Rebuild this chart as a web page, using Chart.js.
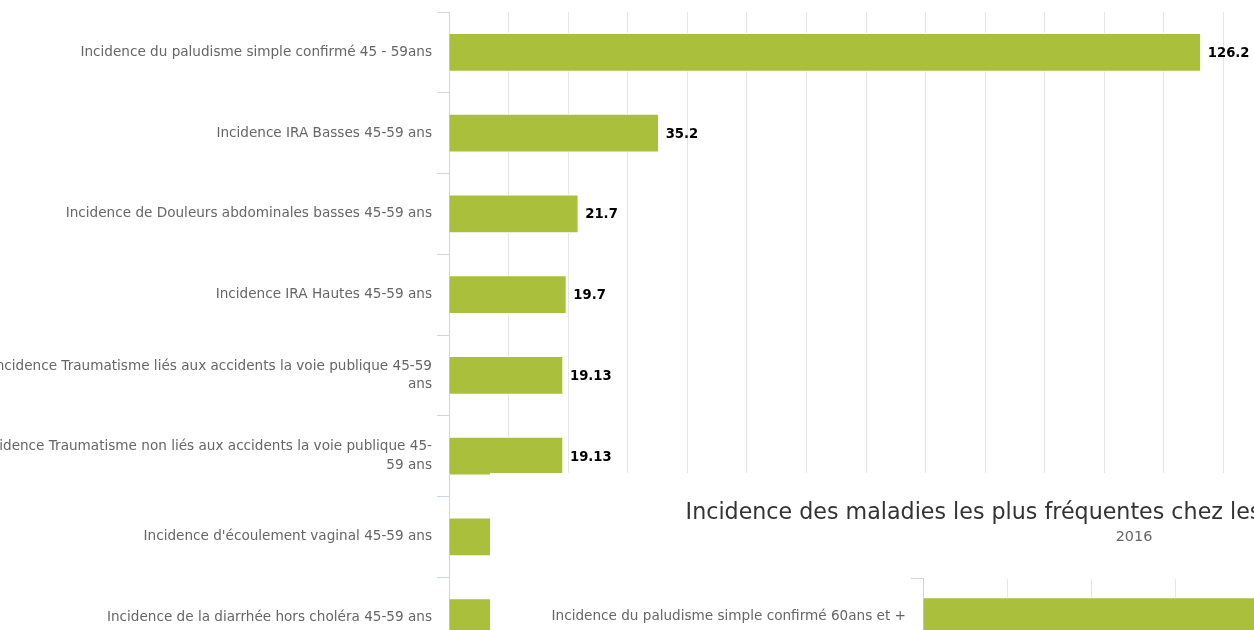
<!DOCTYPE html>
<html>
<head>
<meta charset="utf-8">
<script src="https://cdn.jsdelivr.net/npm/chart.js@4/dist/chart.umd.min.js"></script>
<style>
  html, body { margin: 0; padding: 0; background: #fff; overflow: hidden; }
  body { width: 1254px; height: 630px; position: relative; }
  #chart45 { position: absolute; left: 0; top: 0; }
  #chart60 { position: absolute; left: 490px; top: 473px; background: #fff; z-index: 2; }
</style>
</head>
<body>
<canvas id="chart45" width="1300" height="661"></canvas>
<canvas id="chart60" width="1288" height="184"></canvas>
<script>
// chart 1 : 45-59 ans
const labels45 = [
  'Incidence du paludisme simple confirmé 45 - 59ans',
  'Incidence IRA Basses 45-59 ans',
  'Incidence de Douleurs abdominales basses 45-59 ans',
  'Incidence IRA Hautes 45-59 ans',
  ['Incidence Traumatisme liés aux accidents la voie publique 45-59', 'ans'],
  ['Incidence Traumatisme non liés aux accidents la voie publique 45-', '59 ans'],
  "Incidence d'écoulement vaginal 45-59 ans",
  'Incidence de la diarrhée hors choléra 45-59 ans'
];
// last two bars are hidden behind the second chart, values estimated
const values45 = [126.2, 35.2, 21.7, 19.7, 19.13, 19.13, 14.6, 12.3];

// chart 2 : 60 ans et +
const title60 = 'Incidence des maladies les plus fréquentes chez les personnes de 60 ans et plus';
const subtitle60 = '2016';
const labels60 = ['Incidence du paludisme simple confirmé 60ans et +'];
const values60 = [121.4];

const green = '#aabf3c';
const font = "'DejaVu Sans', sans-serif";

// draws the bold value next to each bar
const valueLabels = {
  id: 'valueLabels',
  afterDatasetsDraw(chart) {
    const c = chart.ctx;
    c.save();
    c.font = 'bold 13.2px ' + font;
    c.fillStyle = '#000';
    c.textBaseline = 'middle';
    chart.getDatasetMeta(0).data.forEach((bar, i) => {
      c.fillText(chart.data.datasets[0].data[i], bar.x + 7, bar.y + 1);
    });
    c.restore();
  }
};

function yAxis(width) {
  return {
    afterFit: s => { s.width = width; s.paddingTop = 0; s.paddingBottom = 0; },
    border: { color: '#ccd6eb' },
    grid: { drawOnChartArea: false, tickLength: 12, color: '#ccd6eb' },
    ticks: {
      autoSkip: false, padding: 5, color: '#666666',
      font: { family: font, size: 13.6, lineHeight: 1.35 }
    }
  };
}

function xAxis(max, step) {
  return {
    min: 0, max: max,
    border: { display: false },
    grid: { color: '#e6e6e6', drawTicks: false },
    ticks: { display: false, stepSize: step }
  };
}

new Chart(document.getElementById('chart45'), {
  type: 'bar',
  data: {
    labels: labels45,
    datasets: [{ data: values45, backgroundColor: green, borderColor: '#fff', borderWidth: 1, barThickness: 38 }]
  },
  options: {
    responsive: false,
    animation: false,
    indexAxis: 'y',
    layout: { padding: { top: 12, left: 0, right: 17, bottom: 3 } },
    plugins: { legend: { display: false }, tooltip: { enabled: false } },
    scales: { x: xAxis(140, 10), y: yAxis(449) }
  },
  plugins: [valueLabels]
});

new Chart(document.getElementById('chart60'), {
  type: 'bar',
  data: {
    labels: labels60,
    datasets: [{ data: values60, backgroundColor: green, borderColor: '#fff', borderWidth: 1, barThickness: 38 }]
  },
  options: {
    responsive: false,
    animation: false,
    indexAxis: 'y',
    layout: { padding: { top: 0, left: 15, right: 15, bottom: 3 } },
    plugins: {
      legend: { display: false },
      tooltip: { enabled: false },
      title: {
        display: true, text: title60, color: '#333333',
        font: { family: font, size: 22.2, weight: 'normal' },
        padding: { top: 27, bottom: 2 }
      },
      subtitle: {
        display: true, text: subtitle60, color: '#666666',
        font: { family: font, size: 14.4 },
        padding: { top: 0, bottom: 33 }
      }
    },
    scales: { x: xAxis(200, 20), y: yAxis(418) }
  },
  plugins: [valueLabels]
});
</script>
</body>
</html>
